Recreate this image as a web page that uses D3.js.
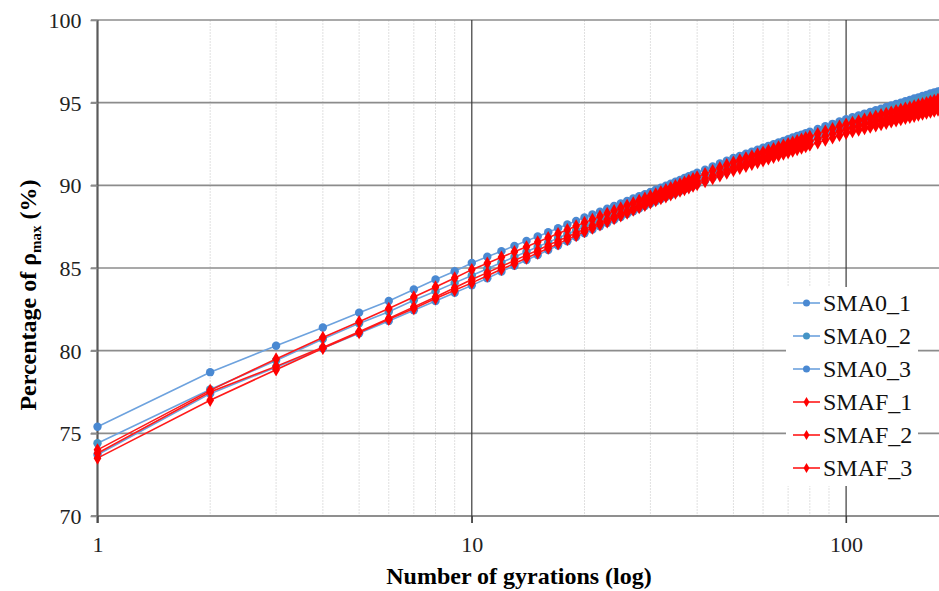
<!DOCTYPE html>
<html>
<head>
<meta charset="utf-8">
<script src="https://cdn.jsdelivr.net/npm/d3@7"></script>
<style>
  body { margin: 0; background: #fff; }
  svg { display: block; font-family: "Liberation Serif", "Times New Roman", serif; }
</style>
</head>
<body>
<svg id="chart"></svg>
<script>
// gyration counts (x) shared by all six series
const gyrations = [
  1, 2, 3, 4, 5, 6, 7, 8, 9, 10, 11, 12, 13, 14, 15, 16, 17, 18, 19, 20,
  21, 22, 23, 24, 25, 26, 27, 28, 29, 30, 31, 32, 33, 34, 35, 36, 37, 38, 39, 40,
  42, 44, 46, 48, 50,
  52, 54, 56, 58, 60, 62, 64, 66, 68, 70, 72, 74, 76, 78, 80,
  84, 88, 92, 96, 100,
  104, 108, 112, 116, 120, 124, 128, 132, 136, 140, 144, 148, 152, 156, 160, 164, 168, 172, 176, 180
];

const sma0_1 = [
  75.4, 78.7, 80.3, 81.4, 82.3, 83.0, 83.7, 84.3, 84.8, 85.3,
  85.68, 86.02, 86.34, 86.64, 86.91, 87.16, 87.41, 87.63, 87.85, 88.05,
  88.24, 88.41, 88.58, 88.75, 88.90, 89.05, 89.20, 89.34, 89.47, 89.6,
  89.73, 89.86, 89.98, 90.10, 90.22, 90.33, 90.44, 90.55, 90.65, 90.76,
  90.95, 91.14, 91.32, 91.49, 91.65,
  91.78, 91.91, 92.03, 92.15, 92.27, 92.38, 92.49, 92.59, 92.69, 92.79, 92.89, 92.98, 93.07, 93.16, 93.24,
  93.41, 93.57, 93.72, 93.86, 94.0,
  94.12, 94.23, 94.34, 94.44, 94.54, 94.64, 94.74, 94.83, 94.92, 95.00, 95.09, 95.17, 95.25, 95.32, 95.40, 95.47, 95.55, 95.62, 95.68, 95.75
];
const sma0_2 = [
  74.4, 77.65, 79.4, 80.7, 81.65, 82.35, 83.05, 83.6, 84.1, 84.55,
  84.96, 85.33, 85.67, 85.98, 86.28, 86.55, 86.81, 87.05, 87.28, 87.5,
  87.70, 87.90, 88.09, 88.26, 88.44, 88.60, 88.76, 88.91, 89.06, 89.2,
  89.34, 89.47, 89.59, 89.72, 89.83, 89.95, 90.06, 90.17, 90.28, 90.38,
  90.58, 90.77, 90.96, 91.13, 91.3,
  91.44, 91.58, 91.71, 91.84, 91.96, 92.08, 92.19, 92.30, 92.41, 92.51, 92.62, 92.71, 92.81, 92.90, 93.00,
  93.17, 93.34, 93.50, 93.65, 93.8,
  93.92, 94.03, 94.14, 94.24, 94.34, 94.44, 94.54, 94.63, 94.72, 94.80, 94.89, 94.97, 95.05, 95.12, 95.20, 95.27, 95.35, 95.42, 95.48, 95.55
];
const sma0_3 = [
  73.7, 77.4, 79.0, 80.15, 81.05, 81.8, 82.45, 83.0, 83.5, 83.95,
  84.38, 84.78, 85.14, 85.48, 85.79, 86.09, 86.36, 86.62, 86.87, 87.1,
  87.32, 87.52, 87.72, 87.91, 88.09, 88.26, 88.43, 88.59, 88.75, 88.9,
  89.04, 89.17, 89.29, 89.42, 89.53, 89.65, 89.76, 89.87, 89.98, 90.08,
  90.28, 90.47, 90.66, 90.83, 91.0,
  91.14, 91.28, 91.41, 91.54, 91.66, 91.78, 91.89, 92.00, 92.11, 92.21, 92.32, 92.41, 92.51, 92.60, 92.70,
  92.87, 93.04, 93.20, 93.35, 93.5,
  93.62, 93.74, 93.85, 93.95, 94.06, 94.16, 94.26, 94.35, 94.44, 94.53, 94.62, 94.70, 94.78, 94.86, 94.94, 95.01, 95.09, 95.16, 95.23, 95.3
];
const smaf_1 = [
  74.0, 77.6, 79.5, 80.8, 81.75, 82.55, 83.25, 83.85, 84.4, 84.9,
  85.29, 85.65, 85.98, 86.28, 86.57, 86.83, 87.08, 87.32, 87.54, 87.75,
  87.94, 88.13, 88.30, 88.47, 88.63, 88.79, 88.93, 89.08, 89.22, 89.35,
  89.48, 89.61, 89.73, 89.85, 89.97, 90.08, 90.19, 90.30, 90.40, 90.51,
  90.70, 90.89, 91.07, 91.24, 91.4,
  91.53, 91.66, 91.78, 91.89, 92.01, 92.11, 92.22, 92.32, 92.42, 92.52, 92.61, 92.70, 92.79, 92.88, 92.96,
  93.12, 93.28, 93.42, 93.57, 93.7,
  93.80, 93.90, 94.00, 94.09, 94.18, 94.27, 94.35, 94.43, 94.51, 94.59, 94.66, 94.73, 94.80, 94.87, 94.94, 95.00, 95.07, 95.13, 95.19, 95.25
];
const smaf_2 = [
  73.8, 77.5, 79.05, 80.2, 81.15, 81.95, 82.65, 83.25, 83.8, 84.3,
  84.72, 85.10, 85.45, 85.78, 86.08, 86.37, 86.64, 86.89, 87.12, 87.35,
  87.55, 87.75, 87.94, 88.11, 88.29, 88.45, 88.61, 88.76, 88.91, 89.05,
  89.18, 89.31, 89.43, 89.55, 89.67, 89.78, 89.89, 90.00, 90.10, 90.21,
  90.40, 90.59, 90.77, 90.94, 91.1,
  91.23, 91.36, 91.48, 91.59, 91.71, 91.81, 91.92, 92.02, 92.12, 92.22, 92.31, 92.40, 92.49, 92.58, 92.66,
  92.82, 92.98, 93.12, 93.27, 93.4,
  93.50, 93.60, 93.69, 93.78, 93.87, 93.95, 94.03, 94.11, 94.19, 94.26, 94.33, 94.40, 94.47, 94.53, 94.60, 94.66, 94.72, 94.78, 94.84, 94.9
];
const smaf_3 = [
  73.5, 77.0, 78.85, 80.15, 81.1, 81.9, 82.55, 83.15, 83.65, 84.1,
  84.53, 84.92, 85.27, 85.61, 85.91, 86.20, 86.47, 86.73, 86.97, 87.2,
  87.41, 87.61, 87.80, 87.99, 88.16, 88.33, 88.50, 88.65, 88.80, 88.95,
  89.08, 89.20, 89.31, 89.43, 89.54, 89.65, 89.75, 89.85, 89.95, 90.05,
  90.23, 90.41, 90.58, 90.74, 90.9,
  91.03, 91.15, 91.27, 91.38, 91.49, 91.60, 91.70, 91.80, 91.90, 91.99, 92.08, 92.17, 92.26, 92.34, 92.43,
  92.58, 92.74, 92.88, 93.02, 93.15,
  93.25, 93.34, 93.43, 93.52, 93.60, 93.68, 93.76, 93.84, 93.91, 93.98, 94.05, 94.12, 94.18, 94.25, 94.31, 94.37, 94.43, 94.49, 94.55, 94.6
];

const seriesNames = ['SMA0_1', 'SMA0_2', 'SMA0_3', 'SMAF_1', 'SMAF_2', 'SMAF_3'];
const seriesValues = [sma0_1, sma0_2, sma0_3, smaf_1, smaf_2, smaf_3];

const yTicks = [70, 75, 80, 85, 90, 95, 100];
const xTicks = [1, 10, 100];
const xMinorTicks = [2, 3, 4, 5, 6, 7, 8, 9, 20, 30, 40, 50, 60, 70, 80, 90, 200];

const W = 939, H = 591;
const svg = d3.select('#chart').attr('width', W).attr('height', H);

// one decade is ~374px, the right part of the plot is cut off by the page edge
const x = d3.scaleLog().domain([1, 200]).range([97.5, 97.5 + 374.3 * Math.log10(200)]);
const y = d3.scaleLinear().domain([70, 100]).range([516, 20]);

const style = [
  { line: '#6da2de', fill: '#4a89d2', shape: 'circle' },
  { line: '#6da2de', fill: '#4594c6', shape: 'circle' },
  { line: '#6da2de', fill: '#4a89d2', shape: 'circle' },
  { line: '#ff1a1a', fill: '#ff0000', shape: 'diamond' },
  { line: '#ff1a1a', fill: '#ff0000', shape: 'diamond' },
  { line: '#ff1a1a', fill: '#ff0000', shape: 'diamond' }
];

// minor vertical grid
svg.append('g')
  .selectAll('line')
  .data(xMinorTicks)
  .join('line')
  .attr('x1', d => x(d)).attr('x2', d => x(d))
  .attr('y1', y(100)).attr('y2', y(70))
  .attr('stroke', '#e0e0e0')
  .attr('stroke-width', 1)
  .attr('stroke-dasharray', '2,1');

// horizontal grid
svg.append('g')
  .selectAll('line')
  .data(yTicks)
  .join('line')
  .attr('x1', 91).attr('x2', W)
  .attr('y1', d => y(d)).attr('y2', d => y(d))
  .attr('stroke', d => d === 70 ? '#6a6a6a' : '#8c8c8c')
  .attr('stroke-width', 1.6);

// major vertical grid
svg.append('g')
  .selectAll('line')
  .data(xTicks.slice(1))
  .join('line')
  .attr('x1', d => x(d)).attr('x2', d => x(d))
  .attr('y1', y(100)).attr('y2', y(70) + 7)
  .attr('stroke', '#3a3a3a')
  .attr('stroke-width', 1.2);

// y axis
const yAxisG = svg.append('g')
  .attr('transform', `translate(${x(1)},0)`)
  .call(d3.axisLeft(y).tickValues(yTicks).tickSize(7).tickSizeOuter(0).tickFormat(d3.format('d')));
yAxisG.select('.domain').attr('stroke', '#5a5a5a').attr('stroke-width', 2.2)
  .attr('d', `M0,${y(100)}V${y(70) + 7}`);
yAxisG.selectAll('.tick line').attr('stroke', '#8c8c8c').attr('stroke-width', 1.6);
yAxisG.selectAll('.tick text')
  .attr('x', -16).attr('dy', '0.34em')
  .attr('font-size', 22).attr('fill', '#222')
  .attr('font-family', '"Liberation Serif", "Times New Roman", serif');

// x axis labels
const xAxisG = svg.append('g')
  .attr('transform', `translate(0,${y(70)})`)
  .call(d3.axisBottom(x).tickValues(xTicks).tickSize(7).tickFormat(d3.format('d')));
xAxisG.select('.domain').remove();
xAxisG.selectAll('.tick line').attr('stroke', '#3a3a3a');
xAxisG.selectAll('.tick text')
  .attr('y', 20).attr('dy', '0.71em')
  .attr('font-size', 22).attr('fill', '#222')
  .attr('font-family', '"Liberation Serif", "Times New Roman", serif');

// series
const lineGen = d3.line()
  .x((d, i) => x(gyrations[i]))
  .y(d => y(d));

const diamond = d3.symbol().type(d3.symbolDiamond).size(52);

seriesValues.forEach((vals, k) => {
  const g = svg.append('g').attr('class', 'series');
  g.append('path')
    .attr('d', lineGen(vals))
    .attr('fill', 'none')
    .attr('stroke', style[k].line)
    .attr('stroke-width', 1.6);
  if (style[k].shape === 'circle') {
    g.selectAll('circle')
      .data(vals)
      .join('circle')
      .attr('cx', (d, i) => x(gyrations[i]))
      .attr('cy', d => y(d))
      .attr('r', 4.2)
      .attr('fill', style[k].fill);
  } else {
    g.selectAll('path.m')
      .data(vals)
      .join('path')
      .attr('class', 'm')
      .attr('d', diamond)
      .attr('transform', (d, i) => `translate(${x(gyrations[i])},${y(d)})`)
      .attr('fill', style[k].fill);
  }
});

// legend
const legend = svg.append('g');
legend.append('rect')
  .attr('x', 786).attr('y', 287)
  .attr('width', 132).attr('height', 199)
  .attr('fill', '#fff');

const items = legend.selectAll('g.item')
  .data(seriesNames)
  .join('g')
  .attr('class', 'item')
  .attr('transform', (d, i) => `translate(0,${303 + i * 33})`);
items.append('line')
  .attr('x1', 793).attr('x2', 820)
  .attr('stroke', (d, i) => style[i].line)
  .attr('stroke-width', 1.6);
items.each(function (d, i) {
  const it = d3.select(this);
  if (style[i].shape === 'circle') {
    it.append('circle').attr('cx', 806.5).attr('cy', 0).attr('r', 3.5).attr('fill', style[i].fill);
  } else {
    it.append('path').attr('d', d3.symbol().type(d3.symbolDiamond).size(30))
      .attr('transform', 'translate(806.5,0)').attr('fill', style[i].fill);
  }
});
items.append('text')
  .attr('x', 823).attr('y', 0).attr('dy', '0.35em')
  .attr('font-size', 24).attr('fill', '#111')
  .text(d => d);

// axis titles
svg.append('text')
  .attr('x', 519).attr('y', 584)
  .attr('text-anchor', 'middle')
  .attr('font-size', 24).attr('font-weight', 'bold')
  .text('Number of gyrations (log)');

const yTitle = svg.append('text')
  .attr('transform', 'translate(36,295) rotate(-90)')
  .attr('text-anchor', 'middle')
  .attr('font-size', 24).attr('font-weight', 'bold');
yTitle.append('tspan').text('Percentage of ρ');
yTitle.append('tspan').attr('font-size', 15).attr('dy', 5).text('max');
yTitle.append('tspan').attr('dy', -5).text(' (%)');
</script>
</body>
</html>
